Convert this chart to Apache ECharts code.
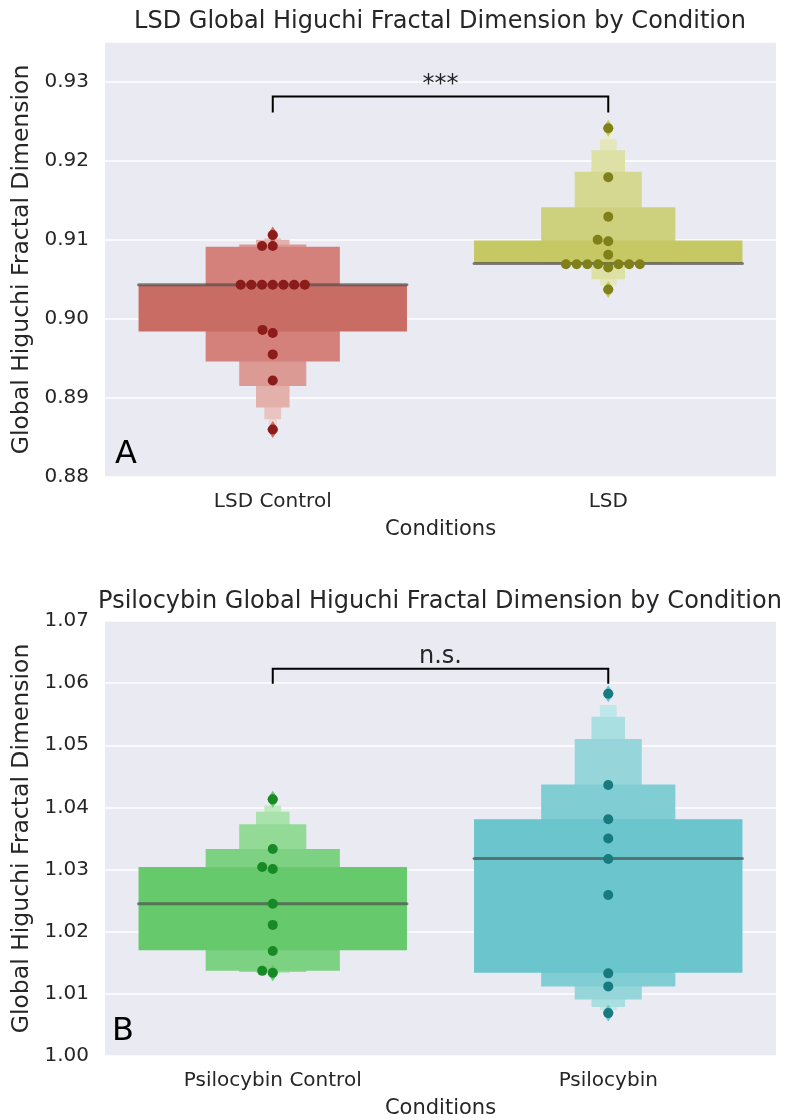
<!DOCTYPE html>
<html>
<head>
<meta charset="utf-8">
<script src="https://cdn.jsdelivr.net/npm/echarts@6/dist/echarts.min.js"></script>
<style>
html,body{margin:0;padding:0;background:#fff;}
#main{width:785px;height:1120px;}
</style>
</head>
<body>
<div id="main"></div>
<script>
// ---------- DATA ----------
const lsdCategories = ['LSD Control', 'LSD'];
const psiCategories = ['Psilocybin Control', 'Psilocybin'];

// individual observations (swarm points)
const lsdControlVals = [0.9106, 0.9092, 0.9092, 0.9043, 0.9043, 0.9043, 0.9043, 0.9043, 0.9043, 0.9043, 0.8986, 0.8982, 0.8955, 0.8922, 0.8860];
const lsdVals = [0.9241, 0.9179, 0.9129, 0.9100, 0.9098, 0.9081, 0.9069, 0.9069, 0.9069, 0.9069, 0.9069, 0.9069, 0.9069, 0.9065, 0.9037];
const psiControlVals = [1.0413, 1.0333, 1.0304, 1.0301, 1.0245, 1.0211, 1.0169, 1.0137, 1.0134];
const psiVals = [1.0583, 1.0436, 1.0381, 1.0350, 1.0317, 1.0259, 1.0133, 1.0112, 1.0069];

// letter-value (boxen) levels: low / high per level, widest first
const lsdControlLow  = [0.8984, 0.8946, 0.8915, 0.8888, 0.8873, 0.8866];
const lsdControlHigh = [0.9043, 0.9091, 0.9094, 0.9100, 0.9102, 0.9104];
const lsdLow  = [0.9070, 0.9070, 0.9070, 0.9050, 0.9042, 0.9039];
const lsdHigh = [0.9099, 0.9141, 0.9186, 0.9213, 0.9227, 0.9236];
const psiControlLow  = [1.0170, 1.0137, 1.0135, 1.0134, 1.0134];
const psiControlHigh = [1.0304, 1.0333, 1.0373, 1.0393, 1.0403];
const psiLow  = [1.0134, 1.0112, 1.0091, 1.0079, 1.0074];
const psiHigh = [1.0381, 1.0437, 1.0510, 1.0546, 1.0565];

const lsdMedians = [0.9043, 0.9070];
const psiMedians = [1.0245, 1.0318];

// significance brackets [low, high]
const lsdBracket = [0.9261, 0.9281];
const psiBracket = [1.0599, 1.0623];
const lsdSigText = '***';
const psiSigText = 'n.s.';

// axis ranges / ticks
const lsdAxis = {min: 0.88, max: 0.935, interval: 0.01};
const psiAxis = {min: 1.00, max: 1.07, interval: 0.01};

// ---------- STYLE ----------
const FONT = 'DejaVu Sans';
const TXT = '#262626';
const palettes = {
  red:   ['#c96c64', '#d4817b', '#dc9a95', '#e3b0ac', '#eac4c1', '#f0d6d4'],
  olive: ['#c6c864', '#cdd07c', '#d5d890', '#dde1a6', '#e4e7bc', '#ebeed0'],
  green: ['#66c96c', '#7dd182', '#93da97', '#a9e2ac', '#bfe9c1', '#d2f0d3'],
  teal:  ['#6ac5cc', '#80cdd3', '#96d6db', '#aadfe2', '#bfe6e9', '#d2eef0']
};
const pointColors = {red: '#8b1c1a', olive: '#7f8019', green: '#178a25', teal: '#167a7e'};

const chart = echarts.init(document.getElementById('main'), null, {renderer: 'canvas'});

function boxenSeries(gi, cat, lows, highs, pal) {
  const data = [];
  // narrowest first so the widest (darkest) ends on top
  for (let l = lows.length - 1; l >= 0; l--) data.push([cat, lows[l], highs[l], l]);
  return {
    type: 'custom', xAxisIndex: gi, yAxisIndex: gi, z: 2,
    renderItem(params, api) {
      const c = api.value(0), lo = api.value(1), hi = api.value(2), lvl = api.value(3);
      const bw = api.size([1, 0])[0];
      const w = bw * 0.8 / Math.pow(2, lvl);
      const p1 = api.coord([c, hi]), p2 = api.coord([c, lo]);
      return {type: 'rect', shape: {x: p1[0] - w / 2, y: p1[1], width: w, height: p2[1] - p1[1]},
        style: {fill: pal[lvl], stroke: null}};
    },
    data: data, silent: true
  };
}

function medianSeries(gi, medians) {
  return {
    type: 'custom', xAxisIndex: gi, yAxisIndex: gi, z: 3,
    renderItem(params, api) {
      const c = api.value(0), m = api.value(1);
      const bw = api.size([1, 0])[0];
      const w = bw * 0.8;
      const p = api.coord([c, m]);
      return {type: 'line', shape: {x1: p[0] - w / 2, y1: p[1], x2: p[0] + w / 2, y2: p[1]},
        style: {stroke: 'rgba(75,75,75,0.68)', lineWidth: 3, lineCap: 'round'}};
    },
    data: medians.map((m, i) => [i, m]), silent: true
  };
}

function outlierSeries(gi, cat, vals, color) {
  return {
    type: 'scatter', xAxisIndex: gi, yAxisIndex: gi, z: 4,
    symbol: 'diamond', symbolSize: [11, 17],
    itemStyle: {color: color, opacity: 1},
    data: [[cat, Math.min(...vals)], [cat, Math.max(...vals)]], silent: true
  };
}

function swarmOffsets(ys, vals, D) {
  const order = vals.map((v, i) => i).sort((a, b) => vals[a] - vals[b]);
  const placed = [];
  const off = new Array(vals.length).fill(0);
  for (const i of order) {
    const y = ys[i];
    const cands = [0];
    for (const p of placed) {
      const dy = y - p.y;
      if (Math.abs(dy) < D) {
        const dx = Math.sqrt(D * D - dy * dy);
        cands.push(p.x - dx, p.x + dx);
      }
    }
    cands.sort((a, b) => {
      const d = Math.abs(a) - Math.abs(b);
      if (Math.abs(d) > 1e-6) return d;
      return a - b;
    });
    let chosen = 0;
    for (const c of cands) {
      let ok = true;
      for (const p of placed) {
        const dx = c - p.x, dy = y - p.y;
        if (dx * dx + dy * dy < D * D - 1e-3) { ok = false; break; }
      }
      if (ok) { chosen = c; break; }
    }
    placed.push({x: chosen, y: y});
    off[i] = chosen;
  }
  return off;
}

function swarmSeries(gi, cat, vals, color) {
  return {
    type: 'custom', xAxisIndex: gi, yAxisIndex: gi, z: 5,
    renderItem(params, api) {
      const ys = vals.map(v => api.coord([cat, v])[1]);
      const offs = swarmOffsets(ys, vals, 10.7);
      const i = params.dataIndex;
      const p = api.coord([cat, vals[i]]);
      return {type: 'circle', shape: {cx: p[0] + offs[i], cy: p[1], r: 5},
        style: {fill: color}};
    },
    data: vals.map(v => [cat, v]), silent: true
  };
}

function bracketSeries(gi, bracket, text) {
  return {
    type: 'custom', xAxisIndex: gi, yAxisIndex: gi, z: 6,
    renderItem(params, api) {
      const a = api.coord([0, bracket[0]]), b = api.coord([0, bracket[1]]);
      const c = api.coord([1, bracket[1]]), d = api.coord([1, bracket[0]]);
      return {type: 'group', children: [
        {type: 'polyline', shape: {points: [a, b, c, d]},
          style: {stroke: '#000', lineWidth: 2, fill: null}},
        {type: 'text', x: (b[0] + c[0]) / 2, y: b[1],
          style: {text: text, fill: TXT, font: '24px "' + FONT + '"', textAlign: 'center', textVerticalAlign: 'bottom'}}
      ]};
    },
    data: [[0, bracket[1]]], silent: true
  };
}

function xAxisDef(gi, cats) {
  return {
    type: 'category', gridIndex: gi, data: cats,
    axisLine: {show: false}, axisTick: {show: false}, splitLine: {show: false},
    axisLabel: {fontSize: 20, color: TXT, fontFamily: FONT, margin: 15},
    name: 'Conditions', nameLocation: 'middle', nameGap: 42,
    nameTextStyle: {fontSize: 21, color: TXT, fontFamily: FONT}
  };
}
function yAxisDef(gi, ax) {
  return {
    type: 'value', gridIndex: gi, min: ax.min, max: ax.max, interval: ax.interval,
    axisLine: {show: false}, axisTick: {show: false},
    splitLine: {show: true, lineStyle: {color: '#ffffff', width: 1.6}},
    axisLabel: {fontSize: 20, color: TXT, fontFamily: FONT, margin: 16,
      formatter: v => {
        const k = (v - ax.min) / ax.interval;
        return Math.abs(k - Math.round(k)) < 1e-6 ? v.toFixed(2) : '';
      }},
    name: 'Global Higuchi Fractal Dimension', nameLocation: 'middle', nameGap: 66,
    nameTextStyle: {fontSize: 23.5, color: TXT, fontFamily: FONT}
  };
}

const option = {
  backgroundColor: '#ffffff',
  animation: false,
  title: [
    {text: 'LSD Global Higuchi Fractal Dimension by Condition', left: 435, textAlign: 'center', top: 5,
      textStyle: {fontSize: 24, fontWeight: 'normal', color: TXT, fontFamily: FONT}},
    {text: 'Psilocybin Global Higuchi Fractal Dimension by Condition', left: 435, textAlign: 'center', top: 585,
      textStyle: {fontSize: 24, fontWeight: 'normal', color: TXT, fontFamily: FONT}}
  ],
  grid: [
    {left: 105, top: 42, width: 671, height: 435, show: true, backgroundColor: '#EAEAF2', borderWidth: 0},
    {left: 105, top: 621, width: 671, height: 435, show: true, backgroundColor: '#EAEAF2', borderWidth: 0}
  ],
  xAxis: [xAxisDef(0, lsdCategories), xAxisDef(1, psiCategories)],
  yAxis: [yAxisDef(0, lsdAxis), yAxisDef(1, psiAxis)],
  graphic: [
    {type: 'text', left: 115, top: 439, style: {text: 'A', fill: '#000', font: '32px "' + FONT + '"'}},
    {type: 'text', left: 112, top: 1016, style: {text: 'B', fill: '#000', font: '32px "' + FONT + '"'}}
  ],
  series: [
    boxenSeries(0, 0, lsdControlLow, lsdControlHigh, palettes.red),
    boxenSeries(0, 1, lsdLow, lsdHigh, palettes.olive),
    boxenSeries(1, 0, psiControlLow, psiControlHigh, palettes.green),
    boxenSeries(1, 1, psiLow, psiHigh, palettes.teal),
    medianSeries(0, lsdMedians),
    medianSeries(1, psiMedians),
    outlierSeries(0, 0, lsdControlVals, palettes.red[0]),
    outlierSeries(0, 1, lsdVals, palettes.olive[0]),
    outlierSeries(1, 0, psiControlVals, palettes.green[0]),
    outlierSeries(1, 1, psiVals, palettes.teal[0]),
    swarmSeries(0, 0, lsdControlVals, pointColors.red),
    swarmSeries(0, 1, lsdVals, pointColors.olive),
    swarmSeries(1, 0, psiControlVals, pointColors.green),
    swarmSeries(1, 1, psiVals, pointColors.teal),
    bracketSeries(0, lsdBracket, lsdSigText),
    bracketSeries(1, psiBracket, psiSigText)
  ]
};
chart.setOption(option);
</script>
</body>
</html>
